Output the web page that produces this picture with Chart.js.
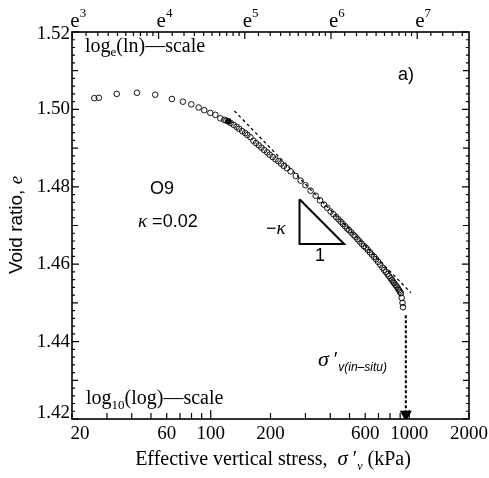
<!DOCTYPE html>
<html>
<head>
<meta charset="utf-8">
<script src="https://cdn.jsdelivr.net/npm/chart.js@4.4.0/dist/chart.umd.min.js"></script>
<style>
  html, body { margin: 0; padding: 0; background: #fff; }
  #wrap { width: 489px; height: 478px; }
</style>
</head>
<body>
<div id="wrap"><canvas id="myChart"></canvas></div>
<script>
// measured points, effective vertical stress (kPa) vs void ratio
const stressKPa = [25.9, 27.3, 33.6, 42.5, 52.5, 63.7, 72.4, 79.8, 86.9, 92.8, 99.5, 105.5, 111.8,
  117, 120, 122.7, 126, 130.5, 135, 139, 144, 149, 153, 158.5, 164, 169, 174.6, 180, 186, 192.4, 198,
  205, 212, 219, 226, 233.4, 242, 252.4, 268, 283.6, 300, 318.4, 337.6, 355, 371.7, 386, 401.8, 415,
  428, 440, 451.2, 463, 475, 487, 497, 510, 523, 535, 548.1, 562, 576, 590, 603.6, 618, 633, 648,
  664.9, 680, 697, 715, 733, 748, 763, 777, 791.7, 805, 818, 829, 839, 853, 866, 878, 889, 898, 907,
  916, 925, 930];
const voidRatio = [1.5029, 1.5030, 1.5040, 1.5043, 1.5038, 1.5027, 1.5020, 1.5013, 1.5005, 1.4998, 1.4991, 1.4986, 1.4977,
  1.4973, 1.4971, 1.4969, 1.4965, 1.4960, 1.4955, 1.4950, 1.4944, 1.4939, 1.4934, 1.4928, 1.4919, 1.4913, 1.4907, 1.4901, 1.4895, 1.4889, 1.4883,
  1.4877, 1.4871, 1.4866, 1.4860, 1.4854, 1.4848, 1.4840, 1.4828, 1.4816, 1.4804, 1.4790, 1.4777, 1.4765, 1.4754, 1.4746, 1.4736, 1.4729,
  1.4722, 1.4716, 1.4710, 1.4704, 1.4698, 1.4692, 1.4688, 1.4682, 1.4676, 1.4671, 1.4665, 1.4659, 1.4653, 1.4647, 1.4643, 1.4637, 1.4631, 1.4625,
  1.4619, 1.4613, 1.4606, 1.4599, 1.4591, 1.4585, 1.4580, 1.4574, 1.4569, 1.4564, 1.4559, 1.4555, 1.4551, 1.4546, 1.4542, 1.4537, 1.4533, 1.4529, 1.4525,
  1.4513, 1.4500, 1.4489];

const filledStress = [122.7];
const filledVoid = [1.4969];

// kappa line (dashed)
const kappaStress = [131.6, 1019];
const kappaVoid = [1.4996, 1.4526];

// slope triangle
const triStress = [280, 280, 470, 280];
const triVoid = [1.4768, 1.4652, 1.4652, 1.4768];

// in-situ stress arrow
const inSituStress = [961, 961];
const inSituVoid = [1.4468, 1.4212];

// axes
const xTicks = [20, 30, 40, 50, 60, 70, 80, 90, 100, 200, 300, 400, 500, 600, 700, 800, 900, 1000, 2000];
const xLabels = [20, 60, 100, 200, 600, 1000, 2000];
const topExponents = [3, 4, 5, 6, 7];
const yLabels = [1.42, 1.44, 1.46, 1.48, 1.50, 1.52];

const toPts = (xs, ys) => xs.map((v, i) => ({x: v, y: ys[i]}));

const drawRuns = (ctx, runs, x, y, align) => {
  let total = 0;
  runs.forEach(r => { ctx.font = r.font; total += ctx.measureText(r.t).width; });
  let cx = align === 'center' ? x - total / 2 : x;
  ctx.textAlign = 'left';
  ctx.textBaseline = 'alphabetic';
  runs.forEach(r => {
    ctx.font = r.font;
    ctx.fillText(r.t, cx, y + (r.dy || 0));
    cx += ctx.measureText(r.t).width;
  });
};

const framePlugin = {
  id: 'frame',
  afterDraw(chart) {
    const ctx = chart.ctx;
    const a = chart.chartArea;
    const xs = chart.scales.x;
    const ys = chart.scales.y;
    ctx.save();
    ctx.strokeStyle = '#000';
    ctx.fillStyle = '#000';
    ctx.lineWidth = 1.6;
    ctx.strokeRect(a.left, a.top, a.right - a.left, a.bottom - a.top);

    // y ticks, both sides
    ctx.lineWidth = 1.2;
    for (let k = 0; k <= 50; k++) {
      const py = ys.getPixelForValue(1.42 + k * 0.002);
      const len = k % 10 === 0 ? 7 : (k % 5 === 0 ? 6 : 3);
      ctx.beginPath();
      ctx.moveTo(a.left, py); ctx.lineTo(a.left + len, py);
      ctx.moveTo(a.right, py); ctx.lineTo(a.right - len, py);
      ctx.stroke();
    }
    ctx.font = '19px "Liberation Serif"';
    ctx.textAlign = 'right';
    ctx.textBaseline = 'middle';
    yLabels.forEach(v => {
      let py = ys.getPixelForValue(v);
      if (v === 1.42) py -= 6;
      if (v === 1.52) py += 2;
      ctx.fillText(v.toFixed(2), a.left - 2, py);
    });

    // bottom ticks
    xTicks.forEach(v => {
      const px = xs.getPixelForValue(v);
      const len = (v === 100 || v === 1000) ? 9 : 6;
      ctx.beginPath();
      ctx.moveTo(px, a.bottom); ctx.lineTo(px, a.bottom - len);
      ctx.stroke();
    });
    ctx.textAlign = 'center';
    ctx.textBaseline = 'alphabetic';
    xLabels.forEach(v => {
      let px = xs.getPixelForValue(v);
      if (v === 20) px += 8;
      ctx.fillText(String(v), px, a.bottom + 20);
    });

    // top ticks (ln scale)
    topExponents.forEach(n => {
      const lo = Math.exp(n), hi = Math.exp(n + 1);
      const px = xs.getPixelForValue(lo);
      ctx.beginPath();
      ctx.moveTo(px, a.top); ctx.lineTo(px, a.top + 7);
      ctx.stroke();
      for (let j = 1; j <= 9; j++) {
        const v = lo + j * (hi - lo) / 10;
        if (v > 2000) break;
        const qx = xs.getPixelForValue(v);
        ctx.beginPath();
        ctx.moveTo(qx, a.top); ctx.lineTo(qx, a.top + 4);
        ctx.stroke();
      }
      drawRuns(ctx, [
        {t: 'e', font: '21px "Liberation Serif"'},
        {t: String(n), font: '13px "Liberation Serif"', dy: -10}
      ], px - 2, a.top - 5, 'left');
    });

    // in-plot labels
    drawRuns(ctx, [
      {t: 'log', font: '20px "Liberation Serif"'},
      {t: 'e', font: '13px "Liberation Serif"', dy: 4},
      {t: '(ln)\u2014scale', font: '20px "Liberation Serif"'}
    ], a.left + 13, a.top + 20, 'left');
    drawRuns(ctx, [
      {t: 'log', font: '20px "Liberation Serif"'},
      {t: '10', font: '13px "Liberation Serif"', dy: 5},
      {t: '(log)\u2014scale', font: '20px "Liberation Serif"'}
    ], a.left + 14, a.bottom - 15, 'left');

    drawRuns(ctx, [{t: 'a)', font: '18px "Liberation Sans"'}], 398, 80, 'left');
    drawRuns(ctx, [{t: 'O9', font: '18px "Liberation Sans"'}], 162, 194, 'center');
    drawRuns(ctx, [
      {t: '\u03ba', font: 'italic 19px "Liberation Serif"'},
      {t: ' =0.02', font: '18px "Liberation Sans"'}
    ], 138, 227, 'left');
    drawRuns(ctx, [
      {t: '\u2212', font: '18px "Liberation Sans"'},
      {t: '\u03ba', font: 'italic 19px "Liberation Serif"'}
    ], 266, 234, 'left');
    drawRuns(ctx, [{t: '1', font: '18px "Liberation Sans"'}], 320, 261, 'center');
    drawRuns(ctx, [
      {t: '\u03c3', font: 'italic 22px "Liberation Serif"'},
      {t: ' \u2032', font: '20px "Liberation Serif"'},
      {t: 'v(in\u2013situ)', font: 'italic 12px "Liberation Sans"', dy: 5}
    ], 318, 366, 'left');

    // axis titles
    drawRuns(ctx, [
      {t: 'Effective vertical stress,  ', font: '20px "Liberation Serif"'},
      {t: '\u03c3', font: 'italic 21px "Liberation Serif"'},
      {t: ' \u2032', font: '20px "Liberation Serif"'},
      {t: 'v', font: 'italic 12px "Liberation Serif"', dy: 5},
      {t: ' (kPa)', font: '20px "Liberation Serif"'}
    ], 273, 465, 'center');
    ctx.translate(22, 225);
    ctx.rotate(-Math.PI / 2);
    drawRuns(ctx, [
      {t: 'Void ratio, ', font: '19px "Liberation Sans"'},
      {t: 'e', font: 'italic 19px "Liberation Serif"'}
    ], 0, 0, 'center');
    ctx.restore();
  }
};

const ctx = document.getElementById('myChart');
new Chart(ctx, {
  type: 'scatter',
  data: {
    datasets: [
      {
        label: 'measured',
        data: toPts(stressKPa, voidRatio),
        pointStyle: 'circle',
        pointRadius: 2.8,
        borderColor: '#111',
        backgroundColor: 'rgba(255,255,255,0)',
        borderWidth: 1
      },
      {
        label: 'filled',
        data: toPts(filledStress, filledVoid),
        pointRadius: 2.8,
        borderColor: '#000',
        backgroundColor: '#000'
      },
      {
        label: 'kappa',
        data: toPts(kappaStress, kappaVoid),
        showLine: true,
        pointRadius: 0,
        borderColor: '#000',
        borderWidth: 1.3,
        borderDash: [3, 3]
      },
      {
        label: 'triangle',
        data: toPts(triStress, triVoid),
        showLine: true,
        pointRadius: 0,
        borderColor: '#000',
        borderWidth: 2
      },
      {
        label: 'in-situ',
        data: toPts(inSituStress, inSituVoid),
        showLine: true,
        borderColor: '#000',
        backgroundColor: '#000',
        borderWidth: 2,
        borderDash: [3, 2],
        pointStyle: 'triangle',
        rotation: 180,
        pointRadius: [0, 5]
      }
    ]
  },
  options: {
    responsive: true,
    maintainAspectRatio: false,
    animation: false,
    layout: { padding: { left: 72, right: 20, top: 32, bottom: 59 } },
    plugins: { legend: { display: false }, tooltip: { enabled: false } },
    scales: {
      x: { type: 'logarithmic', min: 20, max: 2000, display: false },
      y: { type: 'linear', min: 1.42, max: 1.52, display: false }
    }
  },
  plugins: [framePlugin]
});
</script>
</body>
</html>
